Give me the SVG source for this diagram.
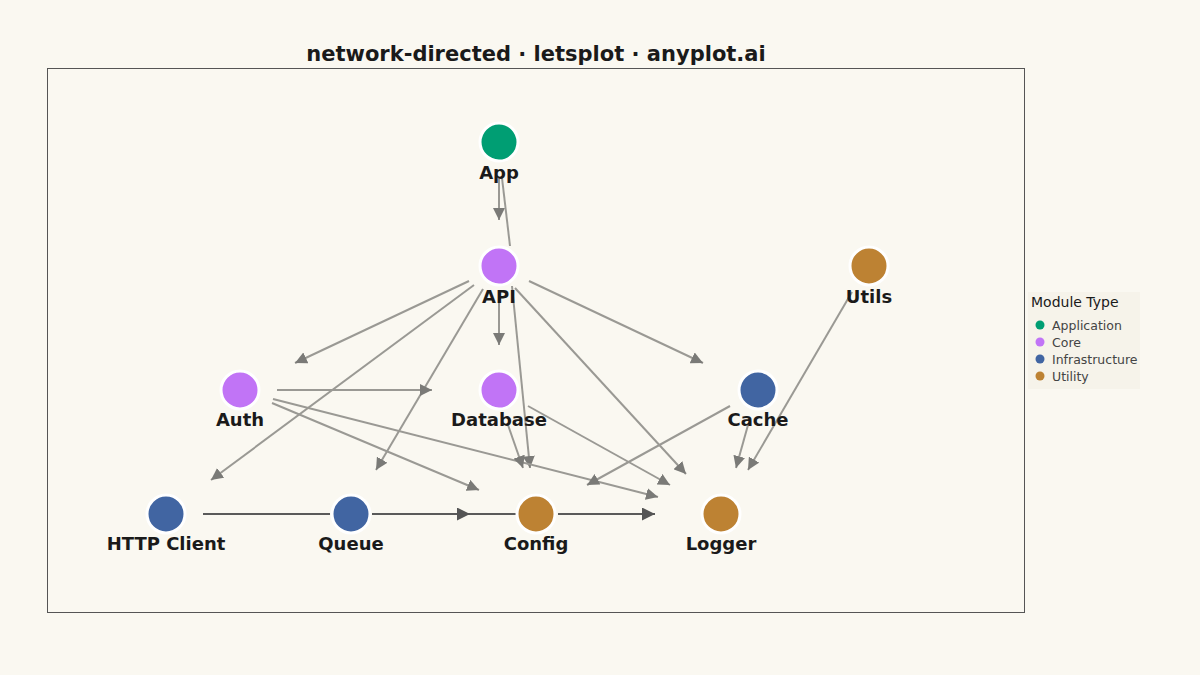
<svg xmlns="http://www.w3.org/2000/svg" width="1200" height="675" viewBox="0 0 1200 675">
<style>
text{font-family:"DejaVu Sans",sans-serif;fill:#1a1a1a}
.lbl{font-size:18px;font-weight:bold;text-anchor:middle}
.e{stroke:#9a9994;stroke-width:2;fill:none}
.ed{stroke:#5a5a5a;stroke-width:2;fill:none}
.n{stroke:#fff;stroke-width:3}
.lg{font-size:12.5px;fill:#444}
</style>
<defs>
<marker id="b" viewBox="0 0 10 10" refX="10" refY="5" markerWidth="13" markerHeight="13" orient="auto" markerUnits="userSpaceOnUse"><path d="M0,0L10,5L0,10z" fill="#555"/></marker>
<marker id="c" viewBox="0 0 10 10" refX="10" refY="5" markerWidth="12" markerHeight="12" orient="auto" markerUnits="userSpaceOnUse"><path d="M0,0L10,5L0,10z" fill="#7a7a77"/></marker>
</defs>
<rect width="1200" height="675" fill="#faf8f1"/>
<text x="536" y="61" font-size="21" font-weight="bold" text-anchor="middle">network-directed · letsplot · anyplot.ai</text>
<rect x="47.5" y="68.5" width="977" height="544" fill="none" stroke="#555" stroke-width="1"/>
<g id="connectors">
<line class="e" x1="499" y1="178" x2="499" y2="220" marker-end="url(#c)"/>
<line class="e" x1="502" y1="178" x2="510" y2="246"/>
<line class="e" x1="469" y1="281" x2="295" y2="363" marker-end="url(#c)"/>
<line class="e" x1="474" y1="285" x2="211" y2="480" marker-end="url(#c)"/>
<line class="e" x1="483" y1="289" x2="376" y2="470" marker-end="url(#c)"/>
<line class="e" x1="499" y1="300" x2="499" y2="345" marker-end="url(#c)"/>
<line class="e" x1="512" y1="286" x2="530" y2="468" marker-end="url(#c)"/>
<line class="e" x1="515" y1="288" x2="686" y2="474" marker-end="url(#c)"/>
<line class="e" x1="529" y1="281" x2="703" y2="363" marker-end="url(#c)"/>
<line class="e" x1="277" y1="390" x2="432" y2="390" marker-end="url(#c)"/>
<line class="e" x1="273" y1="399" x2="658" y2="497" marker-end="url(#c)"/>
<line class="e" x1="272" y1="403" x2="479" y2="490" marker-end="url(#c)"/>
<line class="e" x1="508" y1="425" x2="523" y2="468" marker-end="url(#c)"/>
<line class="e" x1="528" y1="406" x2="670" y2="485" marker-end="url(#c)"/>
<line class="e" x1="730" y1="406" x2="587" y2="485" marker-end="url(#c)"/>
<line class="e" x1="748" y1="425" x2="736" y2="468" marker-end="url(#c)"/>
<line class="e" x1="852" y1="292" x2="748" y2="470" marker-end="url(#c)"/>
<line class="ed" x1="203" y1="514" x2="330" y2="514"/>
<line class="ed" x1="372" y1="514" x2="517" y2="514"/>
<line class="ed" x1="388" y1="514" x2="470" y2="514" marker-end="url(#b)"/>
<line class="ed" x1="558" y1="514" x2="655" y2="514" marker-end="url(#b)"/>
</g>
<g id="app"><circle class="n" cx="499" cy="142" r="19" fill="#009e73"/><text class="lbl" x="499" y="179">App</text></g>
<g id="api"><circle class="n" cx="499" cy="266" r="19" fill="#c174f6"/><text class="lbl" x="499" y="303">API</text></g>
<g id="utils"><circle class="n" cx="869" cy="266" r="19" fill="#bd8233"/><text class="lbl" x="869" y="303">Utils</text></g>
<g id="auth"><circle class="n" cx="240" cy="390" r="19" fill="#c174f6"/><text class="lbl" x="240" y="426">Auth</text></g>
<g id="database"><circle class="n" cx="499" cy="390" r="19" fill="#c174f6"/><text class="lbl" x="499" y="426">Database</text></g>
<g id="cache"><circle class="n" cx="758" cy="390" r="19" fill="#4165a2"/><text class="lbl" x="758" y="426">Cache</text></g>
<g id="http"><circle class="n" cx="166" cy="514" r="19" fill="#4165a2"/><text class="lbl" x="166" y="550">HTTP Client</text></g>
<g id="queue"><circle class="n" cx="351" cy="514" r="19" fill="#4165a2"/><text class="lbl" x="351" y="550">Queue</text></g>
<g id="config"><circle class="n" cx="536" cy="514" r="19" fill="#bd8233"/><text class="lbl" x="536" y="550">Config</text></g>
<g id="logger"><circle class="n" cx="721" cy="514" r="19" fill="#bd8233"/><text class="lbl" x="721" y="550">Logger</text></g>
<g id="legend">
<rect x="1028" y="292" width="112" height="97" fill="#f6f3ea"/>
<text x="1031" y="307" font-size="14">Module Type</text>
<circle cx="1040" cy="325" r="4.5" fill="#009e73"/><text class="lg" x="1052" y="329.5">Application</text>
<circle cx="1040" cy="342" r="4.5" fill="#c174f6"/><text class="lg" x="1052" y="346.5">Core</text>
<circle cx="1040" cy="359" r="4.5" fill="#4165a2"/><text class="lg" x="1052" y="363.5">Infrastructure</text>
<circle cx="1040" cy="376" r="4.5" fill="#bd8233"/><text class="lg" x="1052" y="380.5">Utility</text>
</g>
</svg>
